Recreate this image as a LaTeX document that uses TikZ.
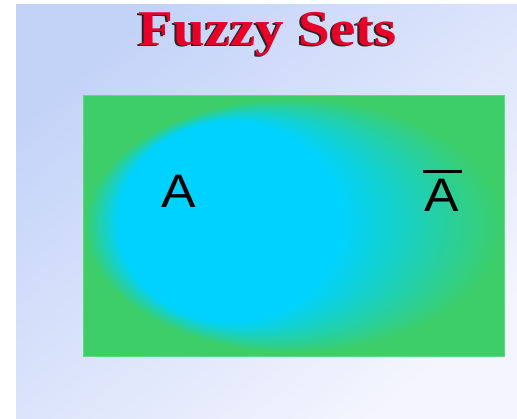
\documentclass[tikz,border=0pt]{standalone}
\usepackage{fontspec}
\newfontfamily\titlefont{Liberation Serif}
\newfontfamily\labelfont{Liberation Sans}
\definecolor{fgreen}{RGB}{61,206,106}
\definecolor{fcyan}{RGB}{0,210,255}
\definecolor{bgtl}{RGB}{195,211,248}
\definecolor{bgbr}{RGB}{244,245,254}
\definecolor{tred}{RGB}{232,0,40}
\definecolor{rimgreen}{RGB}{95,218,130}
\tikzset{
  titletext/.style={inner sep=0pt, anchor=base, xscale=1.14, font=\titlefont\bfseries\fontsize{50}{50}\selectfont},
  setlabel/.style={inner sep=0pt, anchor=base, xscale=1.1, font=\labelfont\fontsize{47}{47}\selectfont, text=black}
}
\begin{document}
\begin{tikzpicture}[x=1pt,y=-1pt]
\useasboundingbox (0,0) rectangle (517,418);
\fill[white] (0,0) rectangle (517,418);
% background
\shade[top color=bgtl, bottom color=bgbr, shading angle=40] (16,4) rectangle (517,418);
% title with shadow
\node[titletext, text=black!85] (titleshadow) at (265.8,46.7) {Fuzzy Sets};
\node[titletext, text=tred] (title) at (267.5,45) {Fuzzy Sets};
% universe rectangle
\fill[fgreen] (83,95) rectangle (504,356);
\begin{scope}
\clip (83,95) rectangle (504,356);
\foreach \i in {0,...,50}{
  \pgfmathsetmacro\t{\i/50}
  \pgfmathsetmacro\cx{295+(230-295)*\t}
  \pgfmathsetmacro\cy{226+(222-226)*\t}
  \pgfmathsetmacro\rx{210+(112-210)*\t}
  \pgfmathsetmacro\ry{127+(100-127)*\t}
  \pgfmathtruncatemacro\p{2*\i}
  \fill[fcyan!\p!fgreen] (\cx,\cy) ellipse [x radius=\rx pt, y radius=\ry pt];
}
\end{scope}
\draw[rimgreen, line width=0.8pt] (83,95) rectangle (504,356);
% labels
\node[setlabel] (A) at (179,207) {A};
\node[setlabel] (Abar) at (442,211) {A};
\coordinate (barL) at (423,171);
\coordinate (barR) at (462,171);
\draw[black, line width=3pt] (barL) -- (barR);
\end{tikzpicture}
\end{document}
